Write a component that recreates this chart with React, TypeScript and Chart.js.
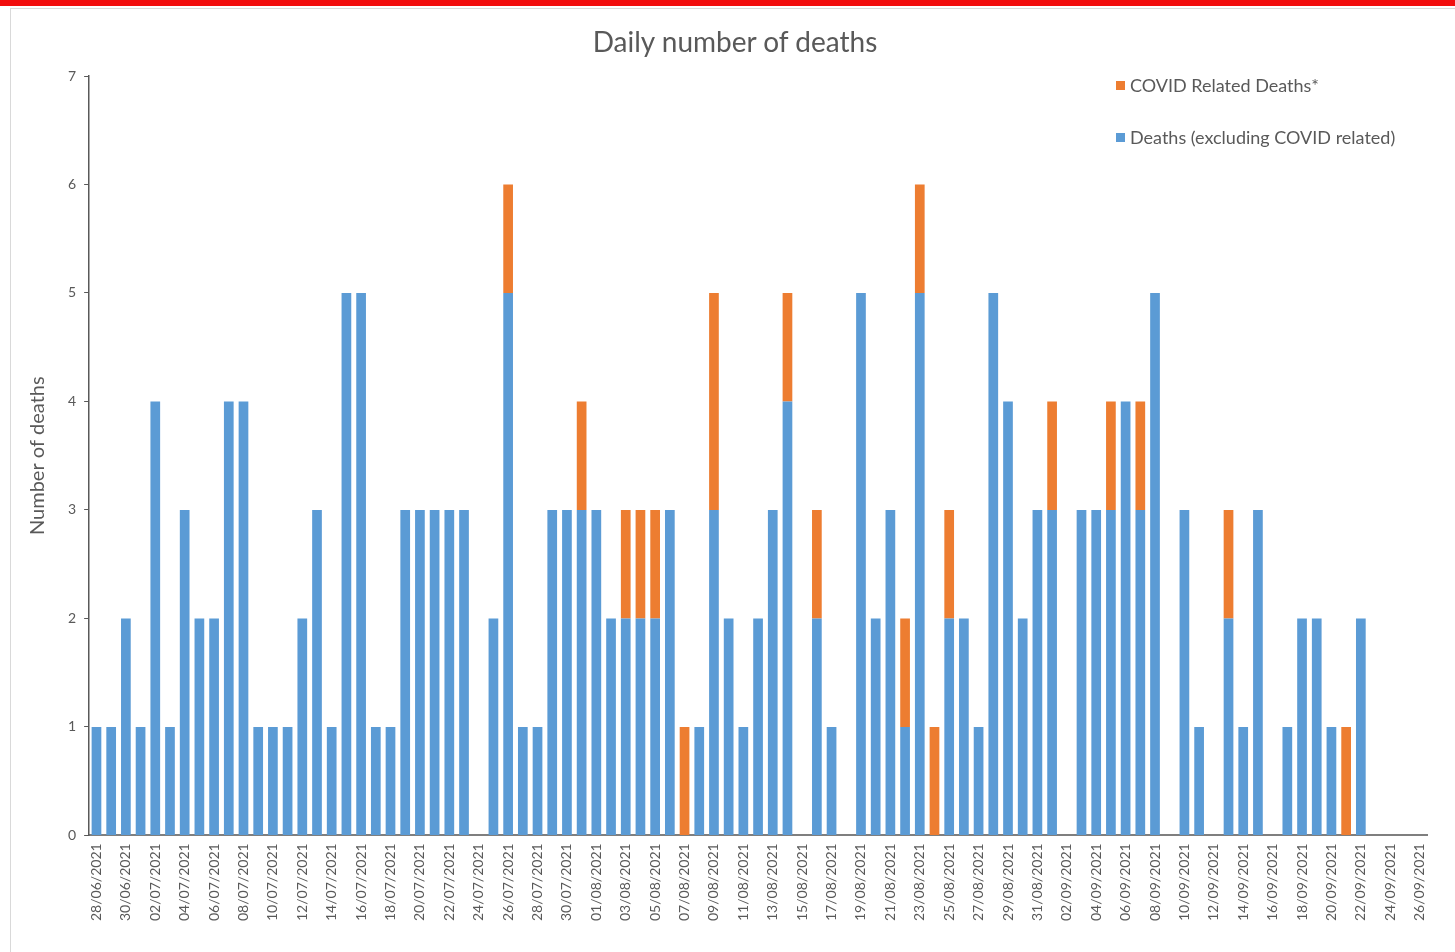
import React, { useEffect, useRef } from "react";
import { Chart, registerables } from "chart.js";

Chart.register(...registerables);

const TITLE = "Daily number of deaths";
const Y_TITLE = "Number of deaths";
const SERIES_COVID = "COVID Related Deaths*";
const SERIES_OTHER = "Deaths (excluding COVID related)";

const dates: string[] = [
  "28/06/2021", "29/06/2021", "30/06/2021",
  "01/07/2021", "02/07/2021", "03/07/2021", "04/07/2021", "05/07/2021", "06/07/2021", "07/07/2021",
  "08/07/2021", "09/07/2021", "10/07/2021", "11/07/2021", "12/07/2021", "13/07/2021", "14/07/2021",
  "15/07/2021", "16/07/2021", "17/07/2021", "18/07/2021", "19/07/2021", "20/07/2021", "21/07/2021",
  "22/07/2021", "23/07/2021", "24/07/2021", "25/07/2021", "26/07/2021", "27/07/2021", "28/07/2021",
  "29/07/2021", "30/07/2021", "31/07/2021",
  "01/08/2021", "02/08/2021", "03/08/2021", "04/08/2021", "05/08/2021", "06/08/2021", "07/08/2021",
  "08/08/2021", "09/08/2021", "10/08/2021", "11/08/2021", "12/08/2021", "13/08/2021", "14/08/2021",
  "15/08/2021", "16/08/2021", "17/08/2021", "18/08/2021", "19/08/2021", "20/08/2021", "21/08/2021",
  "22/08/2021", "23/08/2021", "24/08/2021", "25/08/2021", "26/08/2021", "27/08/2021", "28/08/2021",
  "29/08/2021", "30/08/2021", "31/08/2021",
  "01/09/2021", "02/09/2021", "03/09/2021", "04/09/2021", "05/09/2021", "06/09/2021", "07/09/2021",
  "08/09/2021", "09/09/2021", "10/09/2021", "11/09/2021", "12/09/2021", "13/09/2021", "14/09/2021",
  "15/09/2021", "16/09/2021", "17/09/2021", "18/09/2021", "19/09/2021", "20/09/2021", "21/09/2021",
  "22/09/2021", "23/09/2021", "24/09/2021", "25/09/2021", "26/09/2021",
];

const deathsExclCovid: number[] = [
  1, 1, 2,
  1, 4, 1, 3, 2, 2, 4,
  4, 1, 1, 1, 2, 3, 1,
  5, 5, 1, 1, 3, 3, 3,
  3, 3, 0, 2, 5, 1, 1,
  3, 3, 3,
  3, 2, 2, 2, 2, 3, 0,
  1, 3, 2, 1, 2, 3, 4,
  0, 2, 1, 0, 5, 2, 3,
  1, 5, 0, 2, 2, 1, 5,
  4, 2, 3,
  3, 0, 3, 3, 3, 4, 3,
  5, 0, 3, 1, 0, 2, 1,
  3, 0, 1, 2, 2, 1, 0,
  2, 0, 0, 0, 0,
];

const covidDeaths: number[] = [
  0, 0, 0,
  0, 0, 0, 0, 0, 0, 0,
  0, 0, 0, 0, 0, 0, 0,
  0, 0, 0, 0, 0, 0, 0,
  0, 0, 0, 0, 1, 0, 0,
  0, 0, 1,
  0, 0, 1, 1, 1, 0, 1,
  0, 2, 0, 0, 0, 0, 1,
  0, 1, 0, 0, 0, 0, 0,
  1, 1, 1, 1, 0, 0, 0,
  0, 0, 0,
  1, 0, 0, 0, 1, 0, 1,
  0, 0, 0, 0, 0, 1, 0,
  0, 0, 0, 0, 0, 0, 1,
  0, 0, 0, 0, 0,
];

const Y_MIN = 0;
const Y_MAX = 7;
const Y_STEP = 1;

const BLUE = "#5B9BD5";
const ORANGE = "#ED7D31";
const TEXT = "#595959";
const FONT = "Lato, 'Open Sans', sans-serif";

export default function App() {
  const canvasRef = useRef<HTMLCanvasElement | null>(null);

  useEffect(() => {
    document.body.style.margin = "0";
    const canvas = canvasRef.current;
    if (!canvas) return;
    const chart = new Chart(canvas, {
      type: "bar",
      data: {
        labels: dates,
        datasets: [
          {
            label: SERIES_OTHER,
            data: deathsExclCovid,
            backgroundColor: BLUE,
            barPercentage: 0.66,
            categoryPercentage: 1,
            stack: "s",
          },
          {
            label: SERIES_COVID,
            data: covidDeaths,
            backgroundColor: ORANGE,
            barPercentage: 0.66,
            categoryPercentage: 1,
            stack: "s",
          },
        ],
      },
      options: {
        responsive: false,
        animation: false,
        layout: { padding: { top: 76, left: 26, right: 28, bottom: 23 } },
        plugins: {
          legend: { display: false },
          tooltip: { enabled: false },
          title: { display: false },
        },
        scales: {
          x: {
            stacked: true,
            grid: { display: false, drawOnChartArea: false, drawTicks: false },
            border: { display: true, color: "#7f7f7f", width: 2 },
            ticks: {
              autoSkip: false,
              minRotation: 90,
              maxRotation: 90,
              padding: 8,
              color: TEXT,
              font: { family: FONT, size: 14 },
              callback: (_v: any, index: number) => (index % 2 === 0 ? dates[index] : ""),
            },
          },
          y: {
            stacked: true,
            min: Y_MIN,
            max: Y_MAX,
            ticks: {
              stepSize: Y_STEP,
              color: TEXT,
              padding: 8,
              font: { family: FONT, size: 14 },
            },
            grid: {
              display: true,
              drawOnChartArea: false,
              drawTicks: true,
              tickLength: 5,
              color: "#595959",
            },
            border: { display: true, color: "#595959", width: 1.5 },
            title: {
              display: true,
              text: Y_TITLE,
              color: TEXT,
              font: { family: FONT, size: 20 },
              padding: { top: 0, bottom: 10 },
            },
          },
        },
      },
    });
    return () => chart.destroy();
  }, []);

  const legendItem = (label: string, color: string, top: number) => (
    <div
      style={{
        position: "absolute",
        left: 1116,
        top: top - 12,
        height: 24,
        display: "flex",
        alignItems: "center",
        fontFamily: FONT,
        fontSize: 18,
        color: TEXT,
        whiteSpace: "nowrap",
      }}
    >
      <span style={{ display: "inline-block", width: 9, height: 9, background: color, marginRight: 5 }} />
      {label}
    </div>
  );

  return (
    <div style={{ position: "relative", width: 1455, height: 952, overflow: "hidden", background: "#fff" }}>
      <div style={{ position: "absolute", left: 0, top: 0, width: 1455, height: 6, background: "#f20d0d" }} />
      <div
        style={{
          position: "absolute",
          left: 10,
          top: 8,
          width: 1460,
          height: 960,
          border: "1px solid #d9d9d9",
          boxSizing: "border-box",
        }}
      />
      <canvas ref={canvasRef} width={1455} height={952} style={{ position: "absolute", left: 0, top: 0 }} />
      <div
        style={{
          position: "absolute",
          left: 0,
          width: 1470,
          top: 22,
          height: 38,
          lineHeight: "38px",
          textAlign: "center",
          fontFamily: FONT,
          fontSize: 28,
          color: TEXT,
          whiteSpace: "nowrap",
        }}
      >
        {TITLE}
      </div>
      {legendItem(SERIES_COVID, ORANGE, 85)}
      {legendItem(SERIES_OTHER, BLUE, 137)}
    </div>
  );
}
